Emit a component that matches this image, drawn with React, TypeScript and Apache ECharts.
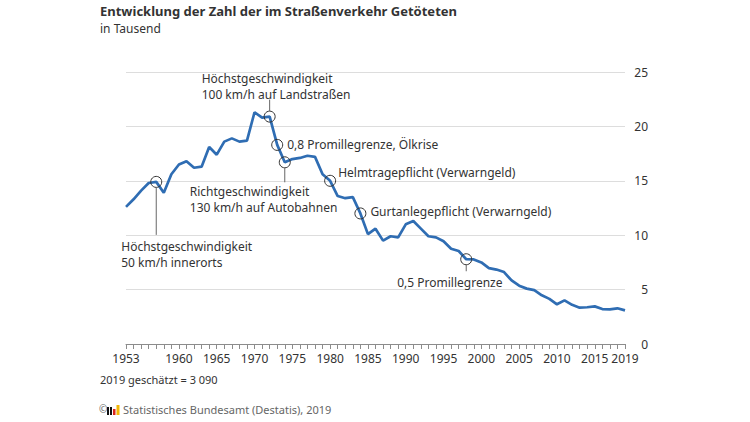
import React, { useEffect, useRef } from "react";
import * as echarts from "echarts";

const years: string[] = [];
for (let y = 1953; y <= 2019; y++) years.push(String(y));

// Getötete im Straßenverkehr, in Tausend
const fatalities = [
  12.6, 13.3, 14.1, 14.8, 14.9, 13.9, 15.6, 16.5, 16.8, 16.2,
  16.3, 18.1, 17.4, 18.6, 18.9, 18.6, 18.7, 21.3, 20.8, 20.9,
  18.3, 16.7, 17.0, 17.1, 17.3, 17.2, 15.6, 15.0, 13.6, 13.4,
  13.5, 12.0, 10.1, 10.6, 9.5, 9.9, 9.8, 11.0, 11.3, 10.6,
  9.9, 9.8, 9.45, 8.76, 8.55, 7.79, 7.77, 7.5, 6.98, 6.84,
  6.61, 5.84, 5.36, 5.09, 4.95, 4.48, 4.15, 3.65, 4.01, 3.6,
  3.34, 3.38, 3.46, 3.21, 3.18, 3.28, 3.09,
];

const xTickLabels = ["1953", "1960", "1965", "1970", "1975", "1980", "1985", "1990", "1995", "2000", "2005", "2010", "2015", "2019"];

const annotationYears = ["1957", "1972", "1973", "1974", "1980", "1984", "1998"];
const annotationTexts = [
  ["Höchstgeschwindigkeit", "50 km/h innerorts"],
  ["Höchstgeschwindigkeit", "100 km/h auf Landstraßen"],
  ["0,8 Promillegrenze, Ölkrise"],
  ["Richtgeschwindigkeit", "130 km/h auf Autobahnen"],
  ["Helmtragepflicht (Verwarngeld)"],
  ["Gurtanlegepflicht (Verwarngeld)"],
  ["0,5 Promillegrenze"],
];

// layout of annotation labels relative to their marker (pixels): y offset is the centre of the first text line
const annotationLayout = [
  { leader: 53, dx: -35, dy: 65 },
  { leader: -17, dx: -68, dy: -38.5 },
  { leader: 0, dx: 10, dy: 0 },
  { leader: 20, dx: -95, dy: 29.5 },
  { leader: 0, dx: 8, dy: -8 },
  { leader: 0, dx: 10, dy: -2 },
  { leader: 12, dx: -69, dy: 23 },
];
const LINE_GAP = 16;

const FONT = "'Noto Sans', sans-serif";

export default function App() {
  const ref = useRef<HTMLDivElement>(null);
  useEffect(() => {
    if (!ref.current) return;
    const chart = echarts.init(ref.current, undefined, { renderer: "svg" });
    const annData = annotationYears.map((y, i) => ({
      value: [y, fatalities[years.indexOf(y)], i],
    }));
    chart.setOption({
      animation: false,
      backgroundColor: "#ffffff",
      grid: { left: 126, right: 125, top: 72, bottom: 78 },
      xAxis: {
        type: "category",
        data: years,
        boundaryGap: false,
        axisLine: { lineStyle: { color: "#8c8c8c", width: 1 } },
        axisTick: { show: true, interval: 0, length: 5, lineStyle: { color: "#8c8c8c" } },
        axisLabel: {
          interval: (_i: number, v: string) => xTickLabels.includes(v),
          color: "#333333",
          fontSize: 12,
          fontFamily: FONT,
          margin: 8,
        },
        splitLine: { show: false },
      },
      yAxis: {
        type: "value",
        position: "right",
        min: 0,
        max: 25,
        interval: 5,
        axisLine: { show: false },
        axisTick: { show: false },
        axisLabel: { color: "#333333", fontSize: 12, fontFamily: FONT, align: "right", margin: 23 },
        splitLine: { lineStyle: { color: "#dddddd", width: 1 } },
      },
      series: [
        {
          type: "line",
          data: fatalities,
          symbol: "none",
          lineStyle: { color: "#2f6db3", width: 2.7 },
          z: 2,
        },
        {
          type: "custom",
          data: annData,
          z: 5,
          renderItem: (_params: any, api: any) => {
            const idx = api.value(2);
            const p = api.coord([api.value(0), api.value(1)]);
            const lay = annotationLayout[idx];
            const r = 5.5;
            const children: any[] = [
              {
                type: "circle",
                shape: { cx: p[0], cy: p[1], r },
                style: { fill: "none", stroke: "#333333", lineWidth: 1 },
              },
            ];
            if (lay.leader !== 0) {
              const sgn = lay.leader > 0 ? 1 : -1;
              children.push({
                type: "line",
                shape: { x1: p[0], y1: p[1] + sgn * r, x2: p[0], y2: p[1] + lay.leader },
                style: { stroke: "#666666", lineWidth: 1 },
              });
            }
            annotationTexts[idx].forEach((t, k) => {
              children.push({
                type: "text",
                x: p[0] + lay.dx,
                y: p[1] + lay.dy + k * LINE_GAP,
                style: {
                  text: t,
                  fill: "#333333",
                  fontSize: 12,
                  fontFamily: FONT,
                  align: "left",
                  verticalAlign: "middle",
                },
              });
            });
            return { type: "group", children };
          },
        },
      ],
      graphic: [
        {
          type: "text",
          left: 100,
          top: 4,
          style: {
            text: "Entwicklung der Zahl der im Straßenverkehr Getöteten",
            fill: "#333333",
            fontSize: 13,
            fontWeight: "bold",
            fontFamily: FONT,
          },
        },
        {
          type: "text",
          left: 100,
          top: 22,
          style: { text: "in Tausend", fill: "#333333", fontSize: 12, fontFamily: FONT },
        },
        {
          type: "text",
          left: 100,
          top: 374,
          style: { text: "2019 geschätzt = 3 090", fill: "#333333", fontSize: 11, fontFamily: FONT },
        },
        {
          type: "text",
          left: 99,
          top: 404,
          style: { text: "©", fill: "#666666", fontSize: 10, fontFamily: FONT },
        },
        { type: "rect", shape: { x: 107, y: 407, width: 2, height: 8 }, style: { fill: "#111111" } },
        { type: "rect", shape: { x: 110, y: 407, width: 2, height: 8 }, style: { fill: "#111111" } },
        { type: "rect", shape: { x: 113, y: 409, width: 2.5, height: 6 }, style: { fill: "#d9261c" } },
        { type: "rect", shape: { x: 116.5, y: 405, width: 3, height: 10 }, style: { fill: "#f2b705" } },
        {
          type: "text",
          left: 123,
          top: 404,
          style: {
            text: "Statistisches Bundesamt (Destatis), 2019",
            fill: "#666666",
            fontSize: 11,
            fontFamily: FONT,
          },
        },
      ],
    });
    return () => chart.dispose();
  }, []);
  return (
    <div
      ref={ref}
      style={{ position: "fixed", left: 0, top: 0, width: 750, height: 422 }}
    />
  );
}
